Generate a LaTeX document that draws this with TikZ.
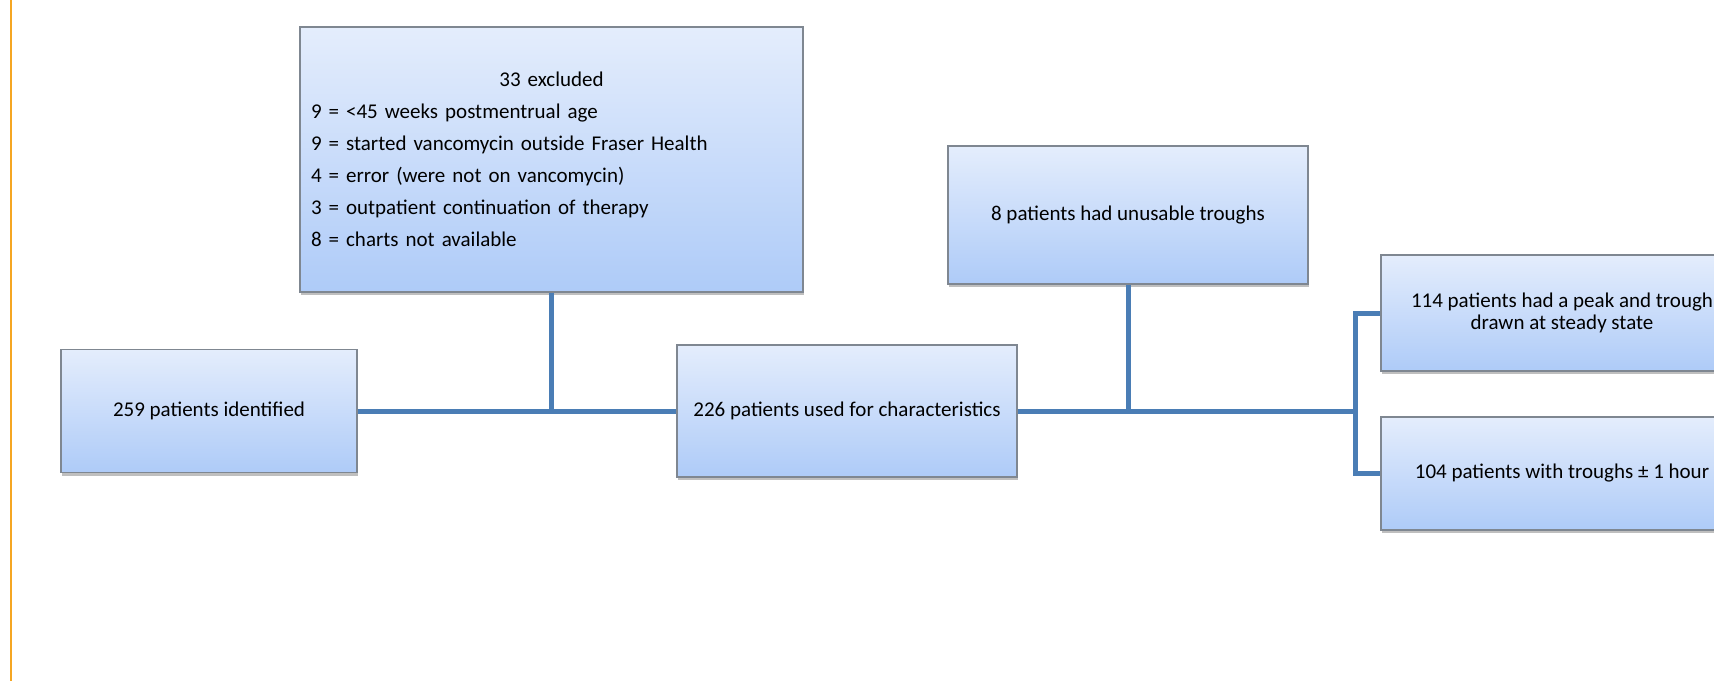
\documentclass[tikz,border=0pt]{standalone}
\usepackage{fontspec}
\setmainfont{Carlito}
\usetikzlibrary{shadows}
\definecolor{connc}{HTML}{4A7DB5}
\definecolor{boxtop}{HTML}{E4EDFC}
\definecolor{boxbot}{HTML}{AECBF8}
\definecolor{boxline}{HTML}{7F8791}
\definecolor{orangeline}{HTML}{F5A623}
\begin{document}
\begin{tikzpicture}[x=1pt,y=-1pt,
  every node/.style={font=\fontsize{21}{32}\selectfont},
  box/.style={draw=boxline, line width=1.2pt, top color=boxtop, bottom color=boxbot, inner sep=0pt,
    drop shadow={shadow xshift=1pt, shadow yshift=-3pt, opacity=0.25, fill=black}},
  conn/.style={draw=connc, line width=5pt}]
\fill[white] (0,0) rectangle (1714,681);
\useasboundingbox (0,0) rectangle (1714,681);
\clip (0,0) rectangle (1714,681);
\coordinate (o1) at (11,0);
\coordinate (o2) at (11,681);
\draw[orangeline, line width=2.5pt] (o1) -- (o2);

\node[box, minimum width=296pt, minimum height=123pt] (n259) at (209,411) {259 patients identified};
\node[box, minimum width=503pt, minimum height=265pt, text width=481pt, align=left] (excl) at (551.5,159.5)
  {\makebox[481pt]{33 excluded}\\
   9 = <45 weeks postmentrual age\\
   9 = started vancomycin outside Fraser Health\\
   4 = error (were not on vancomycin)\\
   3 = outpatient continuation of therapy\\
   8 = charts not available};
\node[box, minimum width=340pt, minimum height=132pt] (n226) at (847,411) {226 patients used for characteristics};
\node[box, minimum width=360pt, minimum height=138pt] (n8) at (1128,215) {8 patients had unusable troughs};
\node[box, minimum width=362pt, minimum height=116pt, align=center, font=\fontsize{21}{21.5}\selectfont] (n114) at (1562,313)
  {114 patients had a peak and trough\\drawn at steady state};
\node[box, minimum width=362pt, minimum height=113pt] (n104) at (1562,473.5) {104 patients with troughs ± 1 hour};

\coordinate (j1) at (excl.south |- n259.east);
\coordinate (j2) at (n8.south |- n226.east);
\coordinate (j3) at (1355,411);
\draw[conn] (n259.east) -- (n226.west);
\draw[conn] (excl.south) -- (j1);
\draw[conn] (n226.east) -- (j3);
\draw[conn] (n8.south) -- (j2);
\draw[conn] (n114.west) -| (j3) |- (n104.west);
\end{tikzpicture}
\end{document}
